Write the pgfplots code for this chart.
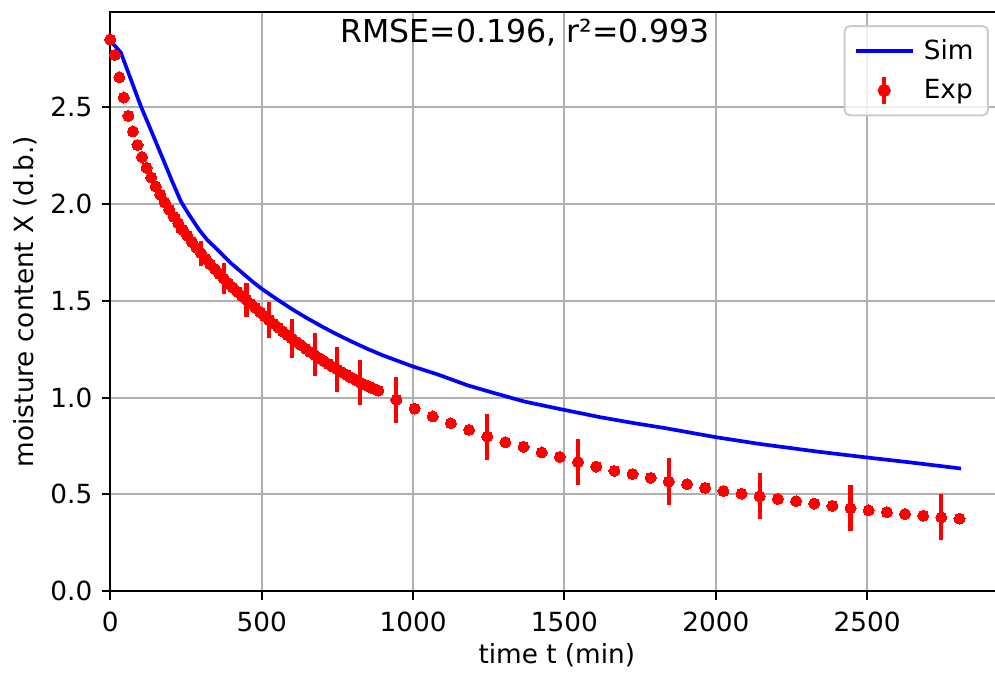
\documentclass[border=0pt]{standalone}
\usepackage{pgfplots}
\pgfplotsset{compat=1.18}
\usepackage{pgfplotstable}
\usepackage{fontspec}
\setmainfont{DejaVu Sans}
\definecolor{gridgray}{HTML}{B0B0B0}
\definecolor{legframe}{HTML}{CCCCCC}

\pgfplotstableread{
t X
0 2.840
15 2.818
35 2.782
62 2.669
101 2.505
140 2.360
172 2.240
205 2.115
233 2.014
260 1.945
293 1.868
320 1.815
348 1.773
398 1.695
430 1.652
469 1.600
500 1.562
550 1.508
600 1.457
650 1.410
700 1.366
750 1.325
800 1.287
850 1.251
900 1.218
950 1.189
1000 1.160
1080 1.120
1180 1.063
1268 1.023
1368 0.979
1499 0.936
1619 0.898
1732 0.867
1832 0.842
2000 0.795
2145 0.760
2333 0.721
2500 0.690
2646 0.664
2810 0.633
}\simtable

\pgfplotstableread{
t X e
0 2.850 0
15 2.770 0
30 2.655 0
45 2.550 0
60 2.455 0
75 2.375 0.015
90 2.305 0
105 2.243 0
120 2.187 0
135 2.137 0
150 2.090 0.030
165 2.048 0
180 2.008 0
195 1.970 0
210 1.934 0
225 1.900 0.050
240 1.867 0
255 1.835 0
270 1.804 0
285 1.774 0
300 1.745 0.065
315 1.717 0
330 1.690 0
345 1.664 0
360 1.639 0
375 1.615 0.078
390 1.591 0
405 1.568 0
420 1.546 0
435 1.525 0
450 1.505 0.087
465 1.484 0
480 1.463 0
495 1.442 0
510 1.421 0
525 1.401 0.095
540 1.381 0
555 1.362 0
570 1.342 0
585 1.323 0
600 1.305 0.103
615 1.287 0
630 1.270 0
645 1.253 0
660 1.236 0
675 1.220 0.111
690 1.204 0
705 1.189 0
720 1.174 0
735 1.159 0
750 1.145 0.116
765 1.131 0
780 1.117 0
795 1.104 0
810 1.091 0
825 1.078 0.118
840 1.067 0
855 1.056 0
870 1.046 0
885 1.036 0
945 0.988 0.118
1005 0.943 0
1065 0.902 0
1125 0.867 0
1185 0.833 0
1245 0.798 0.119
1305 0.769 0
1365 0.745 0
1425 0.716 0
1485 0.693 0
1545 0.667 0.119
1605 0.643 0
1665 0.621 0
1725 0.605 0
1785 0.585 0
1845 0.566 0.119
1905 0.552 0
1965 0.533 0
2025 0.517 0
2085 0.503 0
2145 0.490 0.119
2205 0.476 0
2265 0.464 0
2325 0.452 0
2385 0.440 0
2445 0.428 0.119
2505 0.417 0
2565 0.408 0
2625 0.398 0
2685 0.389 0
2745 0.381 0.119
2805 0.374 0
}\exptable

\begin{document}
\begin{tikzpicture}
\path[use as bounding box] (-41.9pt,-31.9pt) rectangle (336.2pt,224.6pt);
\begin{axis}[
  at={(0pt,0pt)}, anchor=south west,
  scale only axis, width=339.4pt, height=219.9pt,
  xmin=0, xmax=2950, ymin=0, ymax=2.99,
  xtick={0,500,1000,1500,2000,2500},
  xticklabels={0,500,1000,1500,2000,2500},
  ytick={0,0.5,1,1.5,2,2.5},
  yticklabels={0.0,0.5,1.0,1.5,2.0,2.5},
  tick pos=left,
  tick align=outside, major tick length=3.3pt,
  tick style={black, line width=0.76pt},
  axis line style={line width=0.76pt},
  grid=major, major grid style={gridgray, line width=0.76pt},
  ticklabel style={font=\fontsize{10}{12}\selectfont},
  xticklabel style={yshift=-1pt},
  xlabel={time t (min)}, ylabel={moisture content X (d.b.)},
  label style={font=\fontsize{10}{12}\selectfont},
  xlabel style={at={(axis description cs:0.5,-0.126)}, anchor=base},
  ylabel style={at={(axis description cs:-0.086,0.5)}, anchor=base},
  legend cell align=left,
  legend style={at={(axis description cs:0.9838,0.978)}, anchor=north east,
    draw=legframe, line width=0.76pt, rounded corners=2pt,
    fill=white, fill opacity=0.8, text opacity=1,
    font=\fontsize{10}{12}\selectfont,
    inner xsep=3.5pt, inner ysep=3pt, row sep=2pt,
    /tikz/every odd column/.append style={column sep=1.5pt}},
]
\addplot[blue, line width=1.4pt, forget plot] table[x=t, y=X] {\simtable};
\addplot[only marks, mark=*, mark size=2.1pt, color=red, forget plot,
  mark options={solid, fill=red, draw=red, line width=0pt},
  error bars/.cd, y dir=both, y explicit,
  error bar style={line width=1.6pt, red}, error mark=none]
  table[x=t, y=X, y error=e] {\exptable};
\addlegendimage{legend image code/.code={\draw[blue, line width=1.4pt, draw opacity=1] (0pt,0pt) -- (21.7pt,0pt);}}
\addlegendentry{Sim}
\addlegendimage{legend image code/.code={\draw[red, line width=1.6pt, draw opacity=1] (10.85pt,-5pt) -- (10.85pt,5pt); \fill[red, fill opacity=1] (10.85pt,0pt) circle (2.1pt);}}
\addlegendentry{Exp}
\node[anchor=base, font=\fontsize{12}{14}\selectfont] at (axis cs:1370,2.835) {RMSE=0.196, r²=0.993};
\end{axis}
\end{tikzpicture}
\end{document}
